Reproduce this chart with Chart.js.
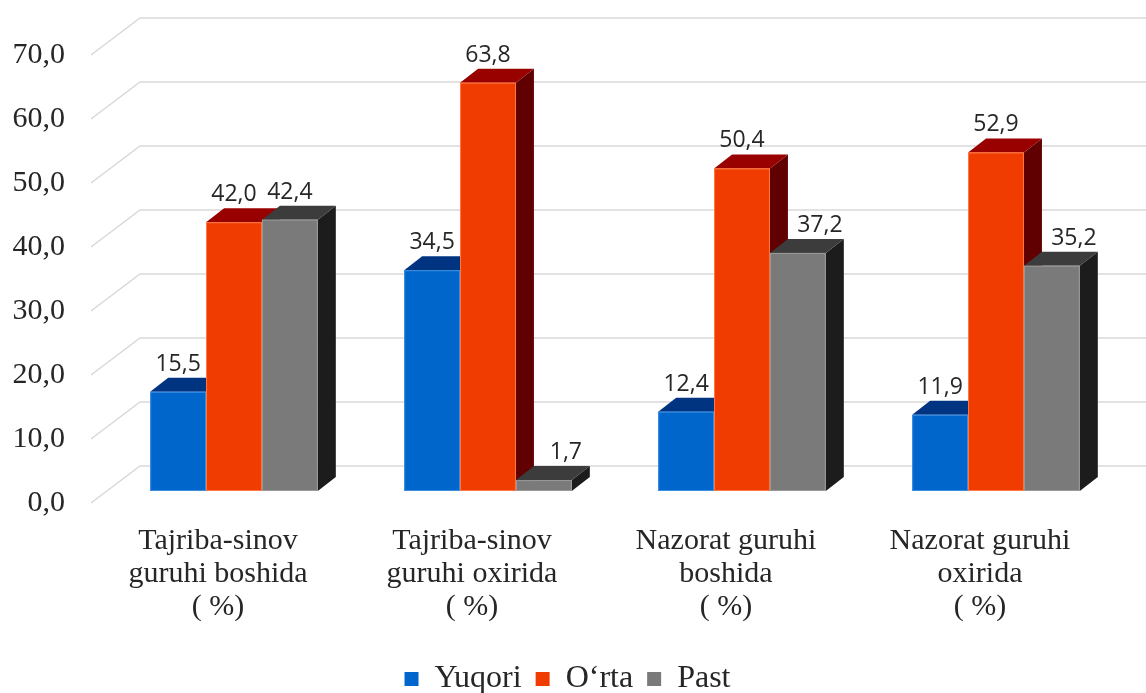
<!DOCTYPE html>
<html>
<head>
<meta charset="utf-8">
<script src="https://cdn.jsdelivr.net/npm/chart.js"></script>
<style>
  html, body { margin: 0; padding: 0; background: #ffffff; }
</style>
</head>
<body>
<canvas id="barChart" width="1146" height="693"></canvas>
<script>
// categories (multi-line x labels)
const categories = [
  ['Tajriba-sinov', 'guruhi boshida', '( %)'],
  ['Tajriba-sinov', 'guruhi oxirida', '( %)'],
  ['Nazorat guruhi', 'boshida', '( %)'],
  ['Nazorat guruhi', 'oxirida', '( %)']
];

// series values
const yuqori = [15.5, 34.5, 12.4, 11.9];
const orta = [42.0, 63.8, 50.4, 52.9];
const past = [42.4, 1.7, 37.2, 35.2];

// y axis tick values
const yTicks = [0, 10, 20, 30, 40, 50, 60, 70];

// colours: front, top, side
const faces = [
  { front: '#0066CC', top: '#003380', side: '#00264D', edge: '#3D8FE0' },
  { front: '#F03C00', top: '#990000', side: '#600000', edge: '#FF7A45' },
  { front: '#7A7A7A', top: '#3C3C3C', side: '#1C1C1C', edge: '#9A9A9A' }
];

const depth = { dx: 18, dy: -14 };                 // bar extrusion
const wall = { fx: -16, fy: 12, bx: 33, by: -25 }; // floor / back wall, relative to bar plane

const comma = v => v.toFixed(1).replace('.', ',');

// draws gridlines, 3D bars and value labels ourselves
const bars3d = {
  id: 'bars3d',
  beforeDatasetsDraw(chart) {
    const ctx = chart.ctx;
    const area = chart.chartArea;
    const yScale = chart.scales.y;

    // back wall + side diagonals
    ctx.save();
    ctx.strokeStyle = '#D9D9D9';
    ctx.lineWidth = 1.5;
    yScale.ticks.forEach(t => {
      const y = yScale.getPixelForValue(t.value);
      ctx.beginPath();
      ctx.moveTo(area.left + wall.fx, y + wall.fy);
      ctx.lineTo(area.left + wall.bx, y + wall.by);
      ctx.lineTo(chart.width, y + wall.by);
      ctx.stroke();
    });
    ctx.restore();

    const metas = chart.data.datasets.map((d, i) => chart.getDatasetMeta(i));
    const n = chart.data.labels.length;

    for (let i = 0; i < n; i++) {
      metas.forEach((meta, d) => {
        const bar = meta.data[i];
        const c = faces[d];
        const l = bar.x - bar.width / 2;
        const r = bar.x + bar.width / 2;
        const top = bar.y;
        const base = bar.base;

        // side
        ctx.fillStyle = c.side;
        ctx.beginPath();
        ctx.moveTo(r, top);
        ctx.lineTo(r + depth.dx, top + depth.dy);
        ctx.lineTo(r + depth.dx, base + depth.dy);
        ctx.lineTo(r, base);
        ctx.closePath();
        ctx.fill();

        // top
        ctx.fillStyle = c.top;
        ctx.beginPath();
        ctx.moveTo(l, top);
        ctx.lineTo(l + depth.dx, top + depth.dy);
        ctx.lineTo(r + depth.dx, top + depth.dy);
        ctx.lineTo(r, top);
        ctx.closePath();
        ctx.fill();

        // front
        ctx.fillStyle = c.front;
        ctx.fillRect(l, top, r - l, base - top);
        ctx.strokeStyle = c.edge;
        ctx.lineWidth = 1;
        ctx.strokeRect(l + 0.5, top + 0.5, r - l - 1, base - top - 1);
      });
    }

    // value labels, nudged right when the bar to the left is taller
    ctx.save();
    ctx.font = '23px "Open Sans"';
    ctx.fillStyle = '#262626';
    ctx.textAlign = 'center';
    ctx.textBaseline = 'bottom';
    metas.forEach((meta, d) => {
      meta.data.forEach((bar, i) => {
        const v = chart.data.datasets[d].data[i];
        let shift = 0;
        if (d > 0 && metas[d - 1].data[i].y < bar.y + depth.dy) shift = depth.dx + 4;
        ctx.fillText(comma(v), bar.x + shift, bar.y + depth.dy - 2);
      });
    });
    ctx.restore();

    return false;
  }
};

const serif = { family: '"Liberation Serif", "Times New Roman", serif', size: 30 };

new Chart(document.getElementById('barChart'), {
  type: 'bar',
  data: {
    labels: categories,
    datasets: [
      { label: 'Yuqori', data: yuqori, backgroundColor: faces[0].front, borderWidth: 0 },
      { label: 'O‘rta', data: orta, backgroundColor: faces[1].front, borderWidth: 0 },
      { label: 'Past', data: past, backgroundColor: faces[2].front, borderWidth: 0 }
    ]
  },
  options: {
    responsive: false,
    animation: false,
    layout: { padding: { left: 12, right: 23, top: 43, bottom: -12 } },
    datasets: { bar: { barPercentage: 1, categoryPercentage: 0.66 } },
    scales: {
      x: {
        grid: { display: false, drawTicks: false },
        border: { display: false },
        ticks: {
          font: { ...serif, lineHeight: 1.1 },
          color: '#262626',
          labelOffset: -16,
          padding: 34,
          maxRotation: 0,
          autoSkip: false
        },
        afterFit(scale) { scale.height = 158; }
      },
      y: {
        min: 0,
        max: 70,
        afterBuildTicks(scale) { scale.ticks = yTicks.map(v => ({ value: v })); },
        grid: { display: false, drawTicks: false },
        border: { display: false },
        ticks: {
          font: serif,
          color: '#262626',
          labelOffset: 12,
          padding: 42,
          callback: v => comma(v)
        },
        afterFit(scale) {
          scale.width = 95;
          scale.paddingTop = 0;
          scale.paddingBottom = 0;
        }
      }
    },
    plugins: {
      legend: {
        position: 'bottom',
        labels: {
          font: { ...serif, size: 32 },
          color: '#262626',
          boxWidth: 14,
          boxHeight: 14,
          padding: 14
        }
      },
      tooltip: { enabled: false }
    }
  },
  plugins: [bars3d]
});
</script>
</body>
</html>
